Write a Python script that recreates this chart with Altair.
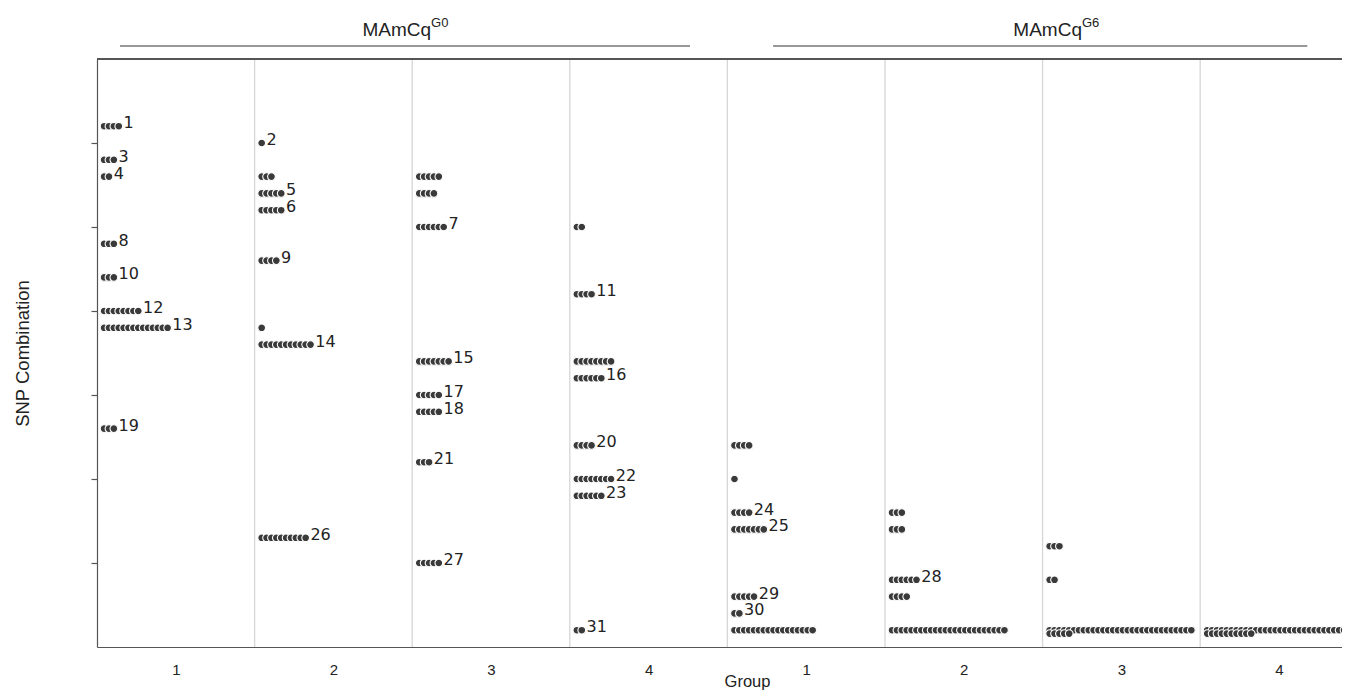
import altair as alt
import pandas as pd

# ---- data ----
# generation, group, SNP-combination position, number of individuals, label
row_gen = (["G0"] * 8 + ["G0"] * 8 + ["G0"] * 8 + ["G0"] * 8
           + ["G6"] * 7 + ["G6"] * 5 + ["G6"] * 4 + ["G6"] * 2)
row_group = ([1] * 8 + [2] * 8 + [3] * 8 + [4] * 8
             + [1] * 7 + [2] * 5 + [3] * 4 + [4] * 2)
row_pos = [31, 29, 28, 24, 22, 20, 19, 13,
           30, 28, 27, 26, 23, 19, 18, 6.5,
           28, 27, 25, 17, 15, 14, 11, 5,
           25, 21, 17, 16, 12, 10, 9, 1,
           12, 10, 8, 7, 3, 2, 1,
           8, 7, 4, 3, 1,
           6, 4, 1, 0.8,
           1, 0.8]
row_count = [4, 3, 2, 3, 3, 8, 14, 3,
             1, 3, 5, 5, 4, 1, 11, 10,
             5, 4, 6, 7, 5, 5, 3, 5,
             2, 4, 8, 6, 4, 8, 6, 2,
             4, 1, 4, 7, 5, 2, 17,
             3, 3, 6, 4, 24,
             3, 2, 30, 5,
             32, 10]
row_label = ["1", "3", "4", "8", "10", "12", "13", "19",
             "2", "", "5", "6", "9", "", "14", "26",
             "", "", "7", "15", "17", "18", "21", "27",
             "", "11", "", "16", "20", "22", "23", "31",
             "", "", "24", "25", "29", "30", "",
             "", "", "28", "", "",
             "", "", "", "",
             "", ""]

gens = ["G0", "G6"]
groups = [1, 2, 3, 4]
header_main = ["MAmCq", "MAmCq"]
header_sup = ["G0", "G6"]

# ---- layout constants ----
W, H = 1245, 588
OFF, DX, GAP = 0.045, 0.031, 0.030

points, labels = [], []
k = 0
for g, grp, p, c, l in zip(row_gen, row_group, row_pos, row_count, row_label):
    panel = gens.index(g) * len(groups) + grp - 1
    for i in range(c):
        points.append({"x": panel + OFF + i * DX, "y": p, "o": k})
        k += 1
    if l:
        labels.append({"x": panel + OFF + (c - 1) * DX + GAP, "y": p, "label": l})

pts = pd.DataFrame(points)
lbl = pd.DataFrame(labels)
npanel = len(gens) * len(groups)
seps = pd.DataFrame({"x": list(range(1, npanel))})
hdr = pd.DataFrame({
    "main": header_main,
    "sup": header_sup,
    "start": [0.146, 4.29],
    "end": [3.763, 7.68],
    "anchor": [2.12, 6.25],
})

FONT = "Liberation Sans"
xscale = alt.Scale(domain=[0, 7.9], nice=False, zero=False)
yscale = alt.Scale(domain=[0, 35], nice=False, zero=True)

xaxis = alt.Axis(values=[i + 0.5 for i in range(npanel)],
                 labelExpr="'' + (floor(datum.value) % 4 + 1)",
                 ticks=False, grid=False, labelPadding=27,
                 labelBaseline="alphabetic", labelFontSize=15,
                 labelFont=FONT, labelColor="#222",
                 title="Group", titleFont=FONT, titleFontSize=16.5,
                 titleFontWeight="normal", titleColor="#222",
                 titleX=650, titleY=39, titleBaseline="alphabetic",
                 domainColor="#555", domainWidth=1.2)
yaxis = alt.Axis(values=[5, 10, 15, 20, 25, 30], labels=False, tickSize=6,
                 tickColor="#555", tickWidth=1.2, grid=False,
                 title="SNP Combination", titleFont=FONT,
                 titleFontSize=18.5, titleFontWeight="normal", titleColor="#222",
                 titleX=-75, titleBaseline="middle",
                 domainColor="#555", domainWidth=1.2)

X = alt.X("x:Q", scale=xscale, axis=xaxis)
Y = alt.Y("y:Q", scale=yscale, axis=yaxis)

sep_layer = alt.Chart(seps).mark_rule(color="#d6d6d6", strokeWidth=1.3).encode(
    x=X, y=alt.value(0), y2=alt.value(H))

top_border = alt.Chart(seps).mark_rule(color="#555", strokeWidth=1.2).encode(
    x=alt.value(0), x2=alt.value(W), y=alt.value(0))

dots = alt.Chart(pts).mark_circle(
    size=60, fill="#3a3a3a", stroke="white", strokeWidth=1.1, opacity=1, clip=True
).encode(x=X, y=Y, order=alt.Order("o:Q"))

texts = alt.Chart(lbl).mark_text(
    align="left", baseline="middle", dy=-3, font="DejaVu Sans",
    fontSize=16, color="#222").encode(x=X, y=Y, text="label:N")

hdr_lines = alt.Chart(hdr).mark_rule(color="#333", strokeWidth=1.2).encode(
    x=alt.X("start:Q", scale=xscale, axis=xaxis), x2="end:Q", y=alt.value(-13))

hdr_main = alt.Chart(hdr).mark_text(
    align="right", baseline="alphabetic", font=FONT,
    fontSize=19, color="#222").encode(
    x=alt.X("anchor:Q", scale=xscale, axis=xaxis), y=alt.value(-23), text="main:N")

hdr_sup = alt.Chart(hdr).mark_text(
    align="left", baseline="alphabetic", font=FONT,
    fontSize=13, color="#222").encode(
    x=alt.X("anchor:Q", scale=xscale, axis=xaxis), y=alt.value(-32), text="sup:N")

chart = alt.layer(sep_layer, top_border, dots, texts, hdr_lines, hdr_main, hdr_sup).properties(
    width=W, height=H,
    autosize=alt.AutoSizeParams(type="none"),
    padding={"left": 89, "top": 51, "right": 0, "bottom": 44},
).configure_view(stroke=None)

chart.save("out.html", embed_options={"renderer": "svg", "actions": False})
